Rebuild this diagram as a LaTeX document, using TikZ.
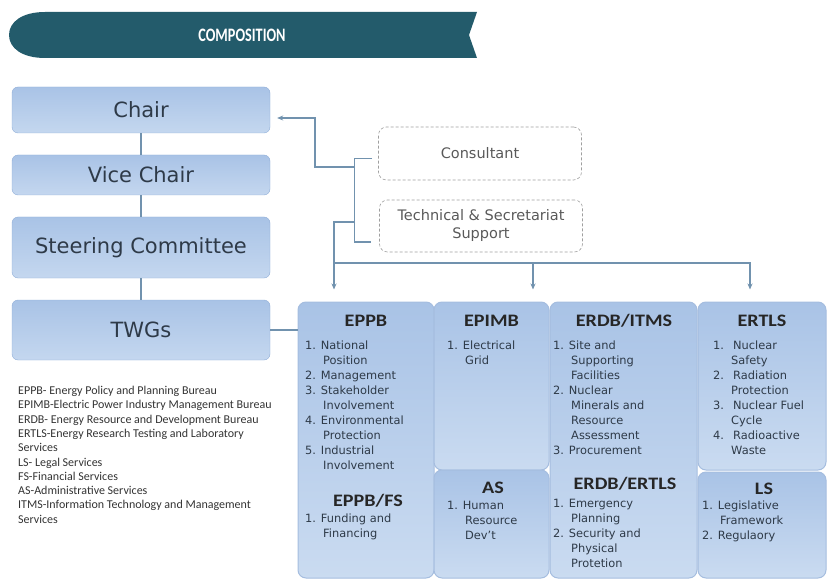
\documentclass[tikz,border=0pt]{standalone}
\usepackage{fontspec}
\setmainfont{DejaVu Sans}
\newfontfamily\carl{Carlito}
\newfontfamily\hdfont[FakeStretch=1.15]{Carlito}
\newfontfamily\banfont[FakeStretch=0.75]{Carlito}
\usepackage{tikz}
\usetikzlibrary{arrows.meta, positioning}

\definecolor{banner}{HTML}{235B6B}
\definecolor{linkc}{HTML}{7192AE}
\definecolor{boxtop}{HTML}{A9C3E6}
\definecolor{boxbot}{HTML}{C4D7EF}
\definecolor{boxedge}{HTML}{8FADD7}
\definecolor{txt}{HTML}{2E3A48}

\newcommand{\contind}{\hspace*{18pt}}
\newcommand{\numbox}[1]{\makebox[20pt][l]{#1}}

\begin{document}
\begin{tikzpicture}[
	x=1pt, y=-1pt,
	lbox/.style={
		rectangle,
		rounded corners=6pt,
		draw=boxedge,
		top color=boxtop,
		bottom color=boxbot,
		minimum width=258pt,
		text=txt,
		font=\fontsize{21}{25}\selectfont
	},
	sbox/.style={
		rectangle,
		rounded corners=8pt,
		draw=gray!75,
		line width=0.6pt,
		densely dashed,
		minimum width=203pt,
		align=center,
		text=black!65,
		font=\fontsize{14.5}{18}\selectfont
	},
	gbox/.style={
		rectangle,
		rounded corners=8pt,
		draw=boxedge!80!white,
		line width=1pt,
		top color=boxtop,
		bottom color=boxbot!90!white,
		inner sep=0pt
	},
	hd/.style={anchor=base, text=black!85, font=\hdfont\bfseries\fontsize{17.5}{20}\selectfont},
	lst/.style={anchor=north west, align=left, inner sep=0pt, text=txt,
		font=\fontsize{11.4}{15}\selectfont},
	link/.style={draw=linkc, line width=1.2pt},
	arr/.style={link, -{Stealth[length=6pt, width=5pt]}}
	]
	\useasboundingbox (0,0) rectangle (828,583);
	
	% Banner
	\fill[banner] (45,12) -- (477,12) -- (469,35) -- (477,58) -- (45,58)
		.. controls (22,58) and (9,48) .. (9,35)
		.. controls (9,22) and (22,12) .. (45,12);
	\node[text=white, font=\banfont\bfseries\fontsize{19}{22}\selectfont] (title) at (242,35) {COMPOSITION};
	
	% Left column
	\node[lbox, minimum height=46pt] (chair) at (141,110) {Chair};
	\node[lbox, minimum height=40pt] (vice) at (141,175) {Vice Chair};
	\node[lbox, minimum height=61pt] (steer) at (141,247.5) {Steering Committee};
	\node[lbox, minimum height=60pt] (twgs) at (141,330) {TWGs};
	
	\draw[link] (chair.south) -- (vice.north);
	\draw[link] (vice.south) -- (steer.north);
	\draw[link] (steer.south) -- (twgs.north);
	
	% Support boxes
	\node[sbox, minimum height=53pt] (cons) at (480,153.5) {Consultant};
	\node[sbox, minimum height=52pt] (tech) at (481,226) {Technical \& Secretariat\\ Support};
	
	% Grid boxes
	\node[gbox, minimum width=136pt, minimum height=276pt] (eppb) at (366,440) {};
	\node[gbox, minimum width=115pt, minimum height=168pt] (epimb) at (491.5,386) {};
	\node[gbox, minimum width=115pt, minimum height=108pt] (as) at (491.5,524) {};
	\node[gbox, minimum width=147pt, minimum height=276pt] (erdb) at (623.5,440) {};
	\node[gbox, minimum width=128pt, minimum height=168pt] (ertls) at (762,386) {};
	\node[gbox, minimum width=128pt, minimum height=106pt] (ls) at (762,525) {};
	
	% Connectors
	\coordinate (jA) at (355,167);
	\coordinate (jB) at (355,222);
	\coordinate (bus) at (334,263);
	\draw[link] ([xshift=-6pt, yshift=-5pt]cons.west) -| ([xshift=-25pt, yshift=-16pt]tech.west)
		-- ([xshift=-8pt, yshift=-16pt]tech.west);
	\draw[arr] (jA) -| (315,118) -- ([xshift=7pt, yshift=-8pt]chair.east);
	\draw[link] (jB) -| (bus);
	\draw[arr, shorten >=12pt] (bus) -- (bus |- eppb.north);
	\draw[arr, shorten >=12pt] (bus) -| ([xshift=-12pt]ertls.north);
	\draw[arr, shorten >=12pt] ([xshift=41.5pt]epimb.north |- bus) -- ([xshift=41.5pt]epimb.north);
	\draw[link] (twgs.east) -- (twgs.east -| eppb.west);
	
	% Headings
	\node[hd] (eppbH) at (366,326) {EPPB};
	\node[hd] (epimbH) at (491.5,326) {EPIMB};
	\node[hd] (erdbH) at (624,326) {ERDB/ITMS};
	\node[hd] (ertlsH) at (762,326) {ERTLS};
	\node[hd] (fsH) at (368,506) {EPPB/FS};
	\node[hd] (asH) at (493,493) {AS};
	\node[hd] (ertH) at (625,489) {ERDB/ERTLS};
	\node[hd] (lsH) at (764,494) {LS};
	
	% Lists
	\node[lst] (eppbL) at (305,340.5) {1. National\\ \contind Position\\ 2. Management\\ 3. Stakeholder\\ \contind Involvement\\
		4. Environmental\\ \contind Protection\\ 5. Industrial\\ \contind Involvement};
	\node[lst] (epimbL) at (447,340.5) {1. Electrical\\ \contind Grid};
	\node[lst] (erdbL) at (553,340.5) {1. Site and\\ \contind Supporting\\ \contind Facilities\\ 2. Nuclear\\ \contind Minerals and\\
		\contind Resource\\ \contind Assessment\\ 3. Procurement};
	\node[lst] (ertlsL) at (713,340.5) {\numbox{1.}Nuclear\\ \contind Safety\\ \numbox{2.}Radiation\\ \contind Protection\\
		\numbox{3.}Nuclear Fuel\\ \contind Cycle\\ \numbox{4.}Radioactive\\ \contind Waste};
	\node[lst] (fsL) at (305,513.5) {1. Funding and\\ \contind Financing};
	\node[lst] (asL) at (447,500.5) {1. Human\\ \contind Resource\\ \contind Dev't};
	\node[lst] (ertL) at (553,498.5) {1. Emergency\\ \contind Planning\\ 2. Security and\\ \contind Physical\\ \contind Protetion};
	\node[lst] (lsL) at (702,500.5) {1. Legislative\\ \contind Framework\\ 2. Regulaory};
	
	% Legend
	\node[anchor=north west, align=left, inner sep=0pt, text=black!80, font=\carl\fontsize{12}{14.3}\selectfont] (key) at (18,386)
		{EPPB- Energy Policy and Planning Bureau\\ EPIMB-Electric Power Industry Management Bureau\\
		ERDB- Energy Resource and Development Bureau\\ ERTLS-Energy Research Testing and Laboratory\\ Services\\
		LS- Legal Services\\ FS-Financial Services\\ AS-Administrative Services\\
		ITMS-Information Technology and Management\\ Services};
	
\end{tikzpicture}
\end{document}
